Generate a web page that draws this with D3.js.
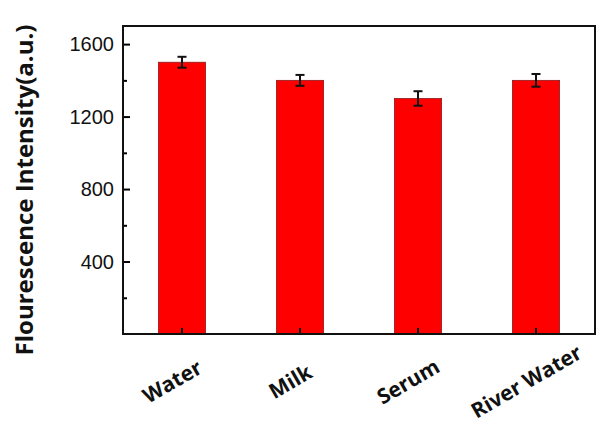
<!DOCTYPE html>
<html>
<head>
<meta charset="utf-8">
<script src="https://cdn.jsdelivr.net/npm/d3@7"></script>
<style>
  body { margin: 0; background: #fff; }
</style>
</head>
<body>
<div id="chart"></div>
<script>
// data
let categories = ["Water", "Milk", "Serum", "River Water"];
let values = [1500, 1400, 1300, 1400];
let errors = [30, 30, 40, 35];
let yTicks = [400, 800, 1200, 1600];
let yMinorTicks = [200, 600, 1000, 1400];

let width = 608, height = 426;
let margin = { left: 123, right: 13, top: 26, bottom: 92 };

let svg = d3.select('#chart').append('svg')
  .attr('width', width)
  .attr('height', height)

let x = d3.scaleBand()
  .domain(categories)
  .range([margin.left, width - margin.right])
  .paddingInner(0.6)
  .paddingOuter(0.3);

let y = d3.scaleLinear()
  .domain([0, 1700])
  .range([height - margin.bottom, margin.top]);

let data = categories.map((c, i) => ({ cat: c, val: values[i], err: errors[i] }));

// bars
svg.selectAll('.bar')
  .data(data)
  .enter()
  .append('rect').classed('bar', true)
  .attr('x', d => x(d.cat))
  .attr('y', d => y(d.val))
  .attr('width', x.bandwidth())
  .attr('height', d => y(0) - y(d.val))
  .attr('fill', '#ff0000')
  .attr('stroke', '#8a1a1a')
  .attr('stroke-width', 0.8);

// error bars
let eb = svg.selectAll('.err')
  .data(data)
  .enter()
  .append('g').classed('err', true)
  .attr('stroke', '#111')
  .attr('stroke-width', 2);
eb.append('line')
  .attr('x1', d => x(d.cat) + x.bandwidth() / 2)
  .attr('x2', d => x(d.cat) + x.bandwidth() / 2)
  .attr('y1', d => y(d.val + d.err))
  .attr('y2', d => y(d.val - d.err));
eb.append('line')
  .attr('x1', d => x(d.cat) + x.bandwidth() / 2 - 4.5)
  .attr('x2', d => x(d.cat) + x.bandwidth() / 2 + 4.5)
  .attr('y1', d => y(d.val + d.err))
  .attr('y2', d => y(d.val + d.err));
eb.append('line')
  .attr('x1', d => x(d.cat) + x.bandwidth() / 2 - 4.5)
  .attr('x2', d => x(d.cat) + x.bandwidth() / 2 + 4.5)
  .attr('y1', d => y(d.val - d.err))
  .attr('y2', d => y(d.val - d.err));

// y axis (ticks inward)
let yAxis = svg.append('g')
  .attr('transform', 'translate(' + margin.left + ',0)')
  .call(d3.axisRight(y).tickValues(yTicks).tickSize(7).tickFormat(''));
yAxis.select('.domain').remove();
yAxis.selectAll('line').attr('stroke', '#000').attr('stroke-width', 2);

let yMinor = svg.append('g')
  .attr('transform', 'translate(' + margin.left + ',0)')
  .call(d3.axisRight(y).tickValues(yMinorTicks).tickSize(4).tickFormat(''));
yMinor.select('.domain').remove();
yMinor.selectAll('line').attr('stroke', '#000').attr('stroke-width', 2);

svg.selectAll('.ylab')
  .data(yTicks)
  .enter()
  .append('text').classed('ylab', true)
  .attr('x', margin.left - 9)
  .attr('y', d => y(d))
  .attr('dy', '0.35em')
  .attr('text-anchor', 'end')
  .attr('font-family', 'Liberation Sans, Arial, sans-serif')
  .attr('font-size', 20)
  .attr('fill', '#111')
  .text(d => d);

// x axis ticks (inward)
let xAxis = svg.append('g')
  .attr('transform', 'translate(0,' + (height - margin.bottom) + ')')
  .call(d3.axisTop(x).tickSize(6).tickFormat(''));
xAxis.select('.domain').remove();
xAxis.selectAll('line').attr('stroke', '#000').attr('stroke-width', 2);

svg.selectAll('.xlab')
  .data(categories)
  .enter()
  .append('text').classed('xlab', true)
  .attr('transform', d => 'translate(' + (x(d) + x.bandwidth() / 2 - 6) + ',' + 388 + ') rotate(-30)')
  .attr('text-anchor', 'middle')
  .attr('font-family', 'Open Sans, sans-serif')
  .attr('font-weight', 'bold')
  .attr('font-size', 21)
  .attr('fill', '#111')
  .text(d => d);

// frame
svg.append('rect')
  .attr('x', margin.left)
  .attr('y', margin.top)
  .attr('width', width - margin.left - margin.right)
  .attr('height', height - margin.top - margin.bottom)
  .attr('fill', 'none')
  .attr('stroke', '#111')
  .attr('stroke-width', 2);

// y title
svg.append('text')
  .attr('transform', 'translate(33,190) rotate(-90)')
  .attr('text-anchor', 'middle')
  .attr('font-family', 'Open Sans, sans-serif')
  .attr('font-weight', 'bold')
  .attr('font-size', 24)
  .attr('fill', '#111')
  .text('Flourescence Intensity(a.u.)');
</script>
</body>
</html>
